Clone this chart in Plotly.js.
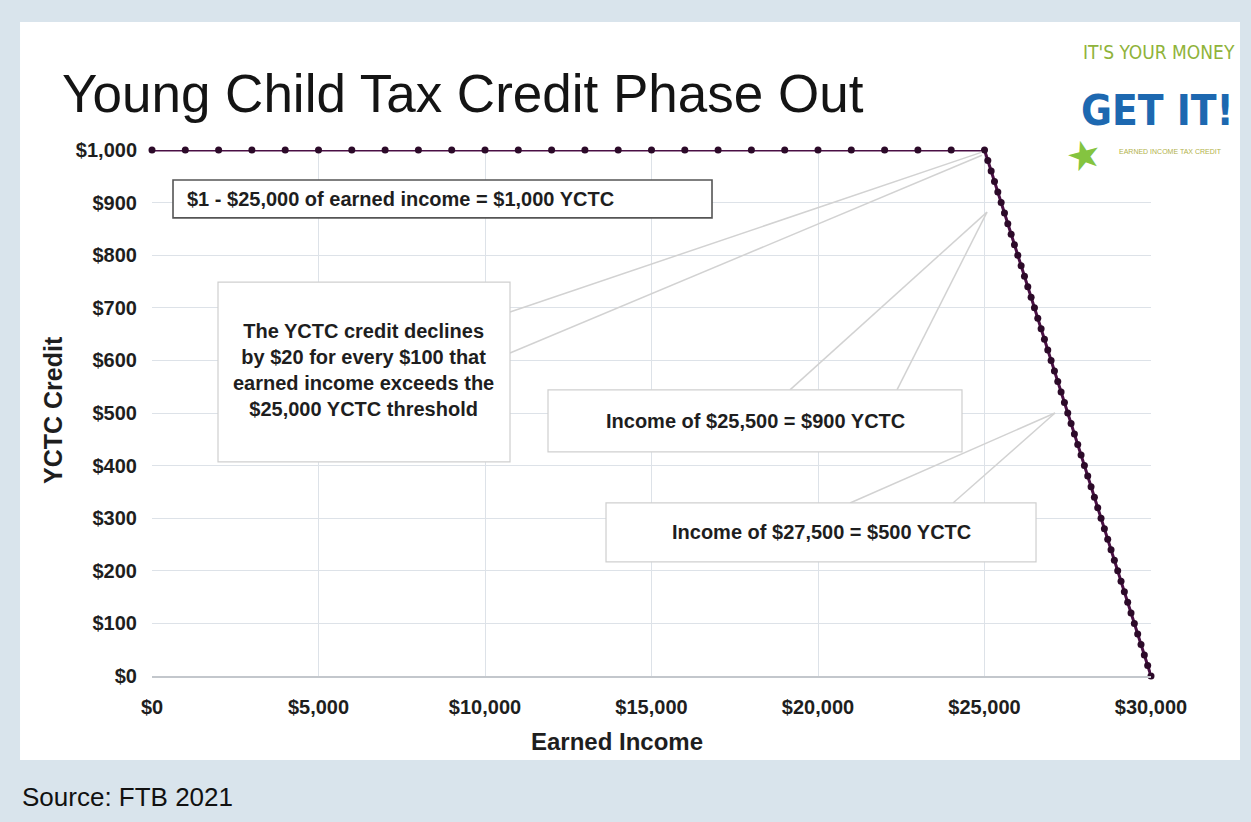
<!DOCTYPE html>
<html>
<head>
<meta charset="utf-8">
<script src="https://cdn.plot.ly/plotly-3.0.1.min.js"></script>
<style>
  html, body { margin: 0; padding: 0; background: #d9e4ec; }
  #chart { width: 1251px; height: 822px; }
</style>
</head>
<body>
<div id="chart"></div>
<script>
// ---- Data ----
const flatIncome = [0,1000,2000,3000,4000,5000,6000,7000,8000,9000,10000,11000,12000,13000,14000,15000,16000,17000,18000,19000,20000,21000,22000,23000,24000,25000];
const flatCredit = [1000,1000,1000,1000,1000,1000,1000,1000,1000,1000,1000,1000,1000,1000,1000,1000,1000,1000,1000,1000,1000,1000,1000,1000,1000,1000];
const phaseIncome = [25100,25200,25300,25400,25500,25600,25700,25800,25900,26000,26100,26200,26300,26400,26500,26600,26700,26800,26900,27000,27100,27200,27300,27400,27500,27600,27700,27800,27900,28000,28100,28200,28300,28400,28500,28600,28700,28800,28900,29000,29100,29200,29300,29400,29500,29600,29700,29800,29900,30000];
const phaseCredit = [980,960,940,920,900,880,860,840,820,800,780,760,740,720,700,680,660,640,620,600,580,560,540,520,500,480,460,440,420,400,380,360,340,320,300,280,260,240,220,200,180,160,140,120,100,80,60,40,20,0];

const xTickVals = [0,5000,10000,15000,20000,25000,30000];
const xTickText = ['$0','$5,000','$10,000','$15,000','$20,000','$25,000','$30,000'];
const yTickVals = [0,100,200,300,400,500,600,700,800,900,1000];
const yTickText = ['$0','$100','$200','$300','$400','$500','$600','$700','$800','$900','$1,000'];

const titleText = 'Young Child Tax Credit Phase Out';
const xTitle = 'Earned Income';
const yTitle = 'YCTC Credit';
const sourceText = 'Source: FTB 2021';
const note1 = '$1 - $25,000 of earned income = $1,000 YCTC';
const note2 = 'The YCTC credit declines<br>by $20 for every $100 that<br>earned income exceeds the<br>$25,000 YCTC threshold';
const note3 = 'Income of $25,500 = $900 YCTC';
const note4 = 'Income of $27,500 = $500 YCTC';

// ---- Layout helpers ----
const FONT = 'Liberation Sans, Arial, sans-serif';
const COND = 'Liberation Sans Narrow, DejaVu Sans Condensed, DejaVu Sans, sans-serif';
const txt = '#1e1e1e';
const calloutLine = {color: '#d2d2d2', width: 1.5};
const softBorder = {color: '#cfcfcf', width: 1.2};

const trace = {
  type: 'scatter',
  mode: 'lines+markers',
  x: flatIncome.concat(phaseIncome),
  y: flatCredit.concat(phaseCredit),
  line: {color: '#4a0f44', width: 3},
  marker: {color: '#2c0a29', size: 7},
  cliponaxis: false,
  hoverinfo: 'x+y'
};

const shapes = [
  // white panel
  {type: 'rect', xref: 'paper', yref: 'paper', x0: -0.1321, x1: 1.0891, y0: -0.1597, y1: 1.2433,
   fillcolor: '#ffffff', line: {width: 0}, layer: 'below'},
  // callout wedges
  {type: 'line', xref: 'x', yref: 'y', x0: 10751, y0: 692, x1: 24925, y1: 996, line: calloutLine, layer: 'above'},
  {type: 'line', xref: 'x', yref: 'y', x0: 10751, y0: 614, x1: 24925, y1: 990, line: calloutLine, layer: 'above'},
  {type: 'line', xref: 'x', yref: 'y', x0: 19159, y0: 544, x1: 25075, y1: 882, line: calloutLine, layer: 'above'},
  {type: 'line', xref: 'x', yref: 'y', x0: 22372, y0: 544, x1: 25075, y1: 882, line: calloutLine, layer: 'above'},
  {type: 'line', xref: 'x', yref: 'y', x0: 20961, y0: 329, x1: 27117, y1: 500, line: calloutLine, layer: 'above'},
  {type: 'line', xref: 'x', yref: 'y', x0: 24054, y0: 329, x1: 27117, y1: 500, line: calloutLine, layer: 'above'},
  // boxes
  {type: 'rect', xref: 'x', yref: 'y', x0: 631, x1: 16817, y0: 871, y1: 943,
   fillcolor: '#ffffff', line: {color: '#555555', width: 1.6}, layer: 'above'},
  {type: 'rect', xref: 'x', yref: 'y', x0: 1982, x1: 10751, y0: 407, y1: 749,
   fillcolor: '#ffffff', line: softBorder, layer: 'above'},
  {type: 'rect', xref: 'x', yref: 'y', x0: 11892, x1: 24324, y0: 426, y1: 544,
   fillcolor: '#ffffff', line: softBorder, layer: 'above'},
  {type: 'rect', xref: 'x', yref: 'y', x0: 13634, x1: 26547, y0: 217, y1: 329,
   fillcolor: '#ffffff', line: softBorder, layer: 'above'}
];

const boxFont = {family: FONT, size: 20, color: txt, weight: 'bold'};

const annotations = [
  {text: note1, xref: 'x', yref: 'y', x: 991, y: 907, xanchor: 'left', yanchor: 'middle', showarrow: false, font: boxFont},
  {text: note2, xref: 'x', yref: 'y', x: 6366, y: 582, xanchor: 'center', yanchor: 'middle', align: 'center', showarrow: false, font: boxFont},
  {text: note3, xref: 'x', yref: 'y', x: 18108, y: 485, xanchor: 'center', yanchor: 'middle', showarrow: false, font: boxFont},
  {text: note4, xref: 'x', yref: 'y', x: 20090, y: 274, xanchor: 'center', yanchor: 'middle', showarrow: false, font: boxFont},
  // axis titles
  {text: xTitle, xref: 'paper', yref: 'paper', x: 0.4655, y: -0.1236, xanchor: 'center', yanchor: 'middle', showarrow: false,
   font: {family: FONT, size: 24, color: txt, weight: 'bold'}},
  {text: yTitle, xref: 'paper', yref: 'paper', x: -0.0991, y: 0.5057, xanchor: 'center', yanchor: 'middle', textangle: -90, showarrow: false,
   font: {family: FONT, size: 25, color: txt, weight: 'bold'}},
  // source
  {text: sourceText, xref: 'paper', yref: 'paper', x: -0.1321, y: -0.2300, xanchor: 'left', yanchor: 'middle', showarrow: false,
   font: {family: FONT, size: 26, color: '#111111'}},
  // logo
  {text: "IT'S YOUR MONEY", xref: 'paper', yref: 'paper', x: 0.9302, y: 1.1863, xanchor: 'left', yanchor: 'middle', showarrow: false,
   font: {family: COND, size: 19, color: '#8fb33a'}},
  {text: 'GET IT!', xref: 'paper', yref: 'paper', x: 0.9282, y: 1.0760, xanchor: 'left', yanchor: 'middle', showarrow: false,
   font: {family: COND, size: 42, color: '#1d68b0', weight: 'bold'}},
  {text: 'EARNED INCOME TAX CREDIT', xref: 'paper', yref: 'paper', x: 0.9660, y: 0.9980, xanchor: 'left', yanchor: 'middle', showarrow: false,
   font: {family: FONT, size: 7, color: '#b2b24a'}},
  {text: '★', xref: 'paper', yref: 'paper', x: 0.9330, y: 0.9905, xanchor: 'center', yanchor: 'middle', showarrow: false, textangle: -15,
   font: {family: 'DejaVu Sans, sans-serif', size: 40, color: '#84c440'}}
];

const layout = {
  width: 1251,
  height: 822,
  margin: {l: 152, r: 100, t: 150, b: 146, pad: 0},
  paper_bgcolor: '#d9e4ec',
  plot_bgcolor: 'rgba(0,0,0,0)',
  showlegend: false,
  title: {
    text: titleText,
    xref: 'container', yref: 'container',
    x: 62 / 1251, xanchor: 'left',
    y: 1 - 93 / 822, yanchor: 'middle',
    font: {family: FONT, size: 53, color: '#141414'}
  },
  xaxis: {
    range: [0, 30000],
    tickmode: 'array', tickvals: xTickVals, ticktext: xTickText,
    showgrid: true, gridcolor: '#dde2e8', gridwidth: 1,
    zeroline: false,
    showline: true, linecolor: '#c3c7cc', linewidth: 1.5,
    ticks: '', ticklabelstandoff: 12,
    tickfont: {family: FONT, size: 20, color: txt, weight: 'bold'},
    fixedrange: true
  },
  yaxis: {
    range: [0, 1000],
    tickmode: 'array', tickvals: yTickVals, ticktext: yTickText,
    showgrid: true, gridcolor: '#dde2e8', gridwidth: 1,
    zeroline: false, showline: false,
    ticks: '', ticklabelstandoff: 14,
    tickfont: {family: FONT, size: 20, color: txt, weight: 'bold'},
    fixedrange: true
  },
  shapes: shapes,
  annotations: annotations
};

Plotly.newPlot('chart', [trace], layout, {displayModeBar: false, staticPlot: true});
</script>
</body>
</html>
